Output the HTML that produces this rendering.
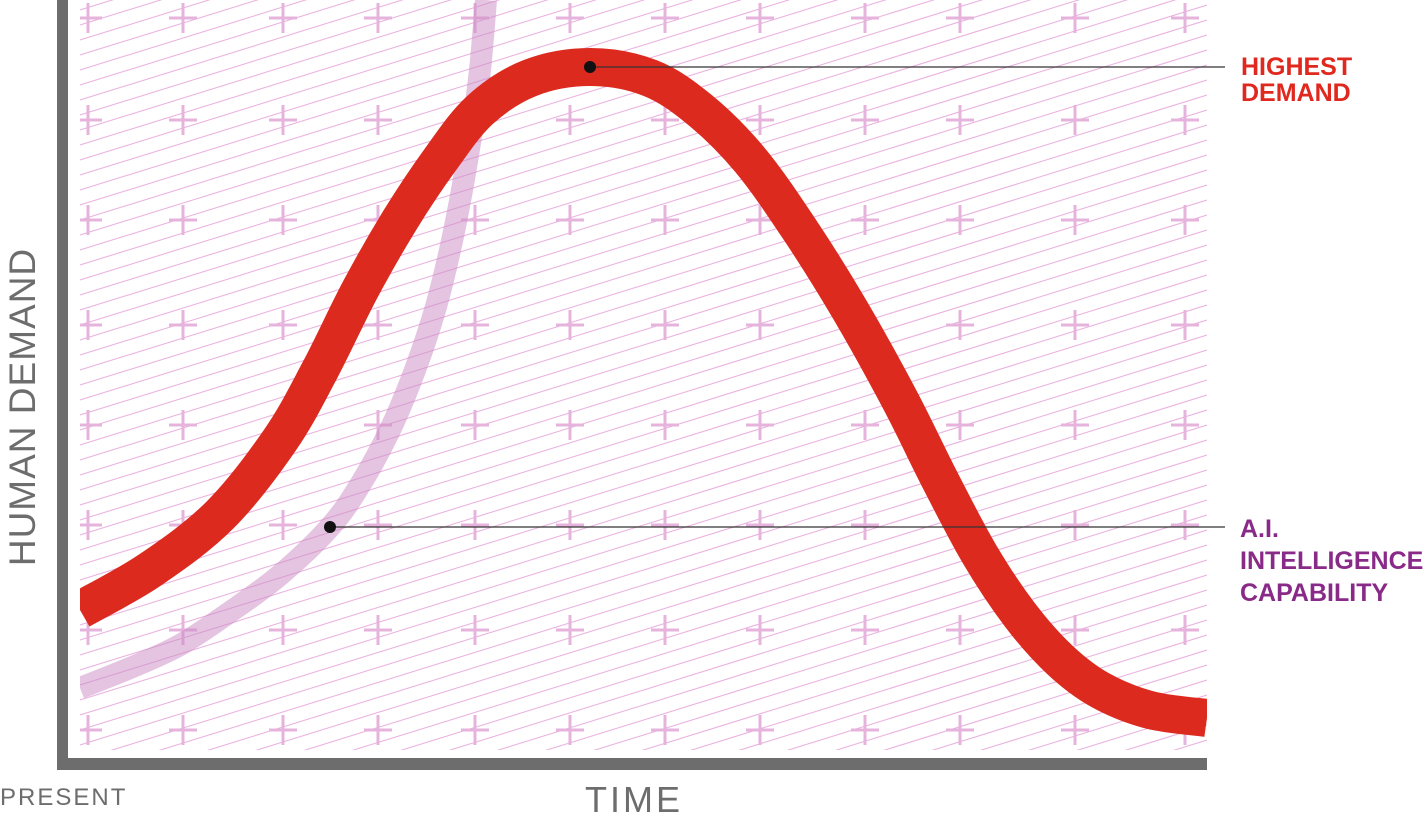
<!DOCTYPE html>
<html><head><meta charset="utf-8"><style>
body{margin:0;background:#fff;width:1426px;height:817px;overflow:hidden}
svg{display:block}
text{font-family:"Liberation Sans",sans-serif}
</style></head><body>
<svg width="1426" height="817" viewBox="0 0 1426 817">
<defs><clipPath id="pc"><rect x="80" y="0" width="1127" height="750"/></clipPath></defs>
<g id="bg" clip-path="url(#pc)"></g>
<g id="series" clip-path="url(#pc)"></g>
<rect x="57" y="0" width="11" height="770" fill="#6d6d6d"/>
<rect x="57" y="758" width="1150" height="12" fill="#6d6d6d"/>
<g id="ann"></g>
<text x="1241" y="75" font-size="25" font-weight="bold" fill="#e0281e">HIGHEST</text>
<text x="1241" y="101" font-size="25" font-weight="bold" fill="#e0281e">DEMAND</text>
<text x="1240" y="537" font-size="25" font-weight="bold" fill="#8a2a88">A.I.</text>
<text x="1240" y="569" font-size="25" font-weight="bold" fill="#8a2a88">INTELLIGENCE</text>
<text x="1240" y="601" font-size="25" font-weight="bold" fill="#8a2a88">CAPABILITY</text>
<text transform="translate(35,407) rotate(-90)" text-anchor="middle" font-size="37" fill="#6d6d6d" letter-spacing="1">HUMAN DEMAND</text>
<text x="634" y="812" text-anchor="middle" font-size="36" fill="#6d6d6d" letter-spacing="3">TIME</text>
<text x="0" y="805" font-size="24" fill="#6d6d6d" letter-spacing="2">PRESENT</text>
</svg>
<script>
// time in px-free units (0..1127), demand values 0..750
const demandT=[0,70,140,200,240,280,320,360,400,450,510,570,620,670,720,770,820,860,900,940,980,1020,1070,1127];
const demandV=[140,180,235,310,380,460,530,590,640,672,683,672,640,590,520,440,350,270,195,135,90,60,40,32];
const aiT=[0,50,100,150,200,250,280,310,335,355,370,382,392,400,406];
const aiV=[62,82,105,138,175,223,265,320,380,440,500,560,620,680,750];
const highestT=510, highestV=683, aiMarkT=250, aiMarkV=223;
const X0=80,Y0=750;
const sx=t=>X0+t, sy=v=>Y0-v;
const NS="http://www.w3.org/2000/svg";
function mk(tag,attrs,parent){const e=document.createElementNS(NS,tag);for(const k in attrs)e.setAttribute(k,attrs[k]);parent.appendChild(e);return e;}
function smooth(pts){let d=`M${pts[0][0]},${pts[0][1]}`;for(let i=0;i<pts.length-1;i++){const p0=pts[i-1]||pts[i],p1=pts[i],p2=pts[i+1],p3=pts[i+2]||p2;const c1=[p1[0]+(p2[0]-p0[0])/6,p1[1]+(p2[1]-p0[1])/6],c2=[p2[0]-(p3[0]-p1[0])/6,p2[1]-(p3[1]-p1[1])/6];d+=` C${c1[0]},${c1[1]} ${c2[0]},${c2[1]} ${p2[0]},${p2[1]}`;}return d;}
const bg=document.getElementById('bg');
for(let b=-400;b<1200;b+=15){const l=mk('line',{x1:80,y1:b+350,x2:1207,y2:b,stroke:'#eab4e0','stroke-width':1.1},bg);

}
const px=[88,183,283,378,475,570,665,760,865,960,1075,1185],py=[18,120,220,325,425,525,630,730];
px.forEach(x=>py.forEach(y=>{const p=mk('path',{d:`M${x-14},${y}H${x+14}M${x},${y-15}V${y+15}`,stroke:'#e6b3dc','stroke-width':3},bg);

}));
const s=document.getElementById('series');
const ai=mk('path',{d:smooth(aiT.map((t,i)=>[sx(t),sy(aiV[i])])),fill:'none',stroke:'#c98ac4','stroke-opacity':0.5,'stroke-width':22},s);


const dm=mk('path',{d:smooth(demandT.map((t,i)=>[sx(t),sy(demandV[i])])),fill:'none',stroke:'#dc2a1f','stroke-width':38},s);


const ann=document.getElementById('ann');
[[highestT,highestV],[aiMarkT,aiMarkV]].forEach(([t,v])=>{
const l=mk('line',{x1:sx(t),y1:sy(v),x2:1225,y2:sy(v),stroke:'#333','stroke-width':1.2},ann);


const c=mk('circle',{cx:sx(t),cy:sy(v),r:6,fill:'#111'},ann);

});
</script>
</body></html>
